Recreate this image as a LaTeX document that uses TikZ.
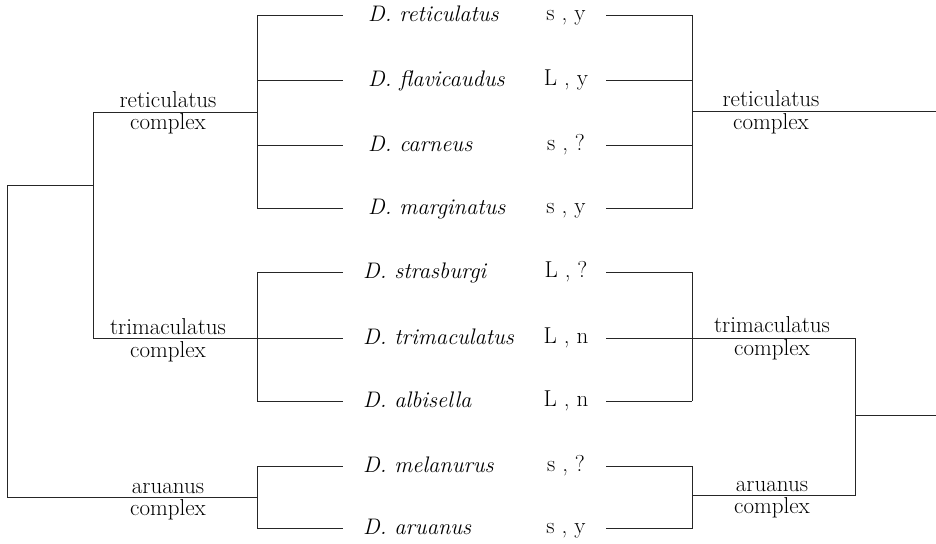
\documentclass[tikz,border=0pt]{standalone}
\begin{document}
\begin{tikzpicture}[x=1pt,y=-1pt,
  br/.style={draw=black!85,line width=1pt},
  sp/.style={font=\fontsize{22.5}{27}\selectfont\itshape,inner sep=0pt,anchor=base west},
  code/.style={font=\fontsize{23}{27}\selectfont,inner sep=0pt,anchor=base},
  lab/.style={font=\fontsize{23}{27}\selectfont,inner sep=0pt,anchor=base}]
\useasboundingbox (0,0) rectangle (936,543);
% species and codes
\foreach \n/\t/\c/\y/\x in {a/reticulatus/{s , y}/15.5/368, b/flavicaudus/{L , y}/80/368, c/carneus/{s , ?}/145.5/368, d/marginatus/{s , y}/208.5/368, e/strasburgi/{L , ?}/272/363, f/trimaculatus/{L , n}/338.5/363, g/albisella/{L , n}/401/363, h/melanurus/{s , ?}/466/363, i/aruanus/{s , y}/528.5/363}{
  \node[sp] (sp\n) at (\x,\y+6) {D. \t};
  \node[code] (cd\n) at (566,\y+5) {\c};
  \coordinate (L\n) at (257,\y);
  \coordinate (l\n) at (343,\y);
  \coordinate (r\n) at (606,\y);
  \coordinate (R\n) at (692,\y);
  \draw[br] (L\n) -- (l\n);
  \draw[br] (r\n) -- (R\n);
}
% left tree
\coordinate (lroot) at (7,185);
\coordinate (lret) at (93,112);
\coordinate (ltri) at (93,338.5);
\coordinate (laru) at (7,497);
\draw[br] (La) -- (Ld);
\draw[br] (Le) -- (Lg);
\draw[br] (Lh) -- (Li);
\draw[br] (lret) -- (257,112);
\draw[br] (ltri) -- (Lf);
\draw[br] (lret) -- (ltri);
\draw[br] (lroot) -- (93,185);
\draw[br] (lroot) -- (laru) -- (257,497);
\node[lab] (lretA) at (168,107) {reticulatus};
\node[lab] (lretB) at (168,129) {complex};
\node[lab] (ltriA) at (168,334) {trimaculatus};
\node[lab] (ltriB) at (168,357) {complex};
\node[lab] (laruA) at (168,493) {aruanus};
\node[lab] (laruB) at (168,515) {complex};
% right tree
\coordinate (rret) at (936,111);
\coordinate (rtri) at (855,338.5);
\coordinate (raru) at (855,495);
\coordinate (rroot) at (936,415);
\draw[br] (Ra) -- (Rd);
\draw[br] (Re) -- (Rg);
\draw[br] (Rh) -- (Ri);
\draw[br] (692,111) -- (rret);
\draw[br] (Rf) -- (rtri) -- (raru) -- (692,495);
\draw[br] (855,415) -- (rroot);
\node[lab] (rretA) at (771,106) {reticulatus};
\node[lab] (rretB) at (771,129) {complex};
\node[lab] (rtriA) at (772,332) {trimaculatus};
\node[lab] (rtriB) at (772,355) {complex};
\node[lab] (raruA) at (772,491) {aruanus};
\node[lab] (raruB) at (772,513) {complex};
\end{tikzpicture}
\end{document}
